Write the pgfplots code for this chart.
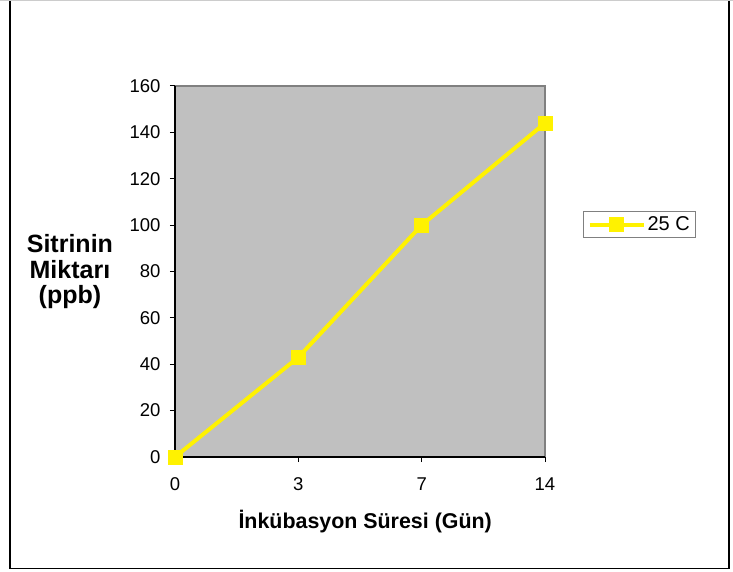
\documentclass[border=0pt]{standalone}
\usepackage{fontspec}
\setmainfont{Liberation Sans}
\usepackage{pgfplots}
\pgfplotsset{compat=1.18}
\definecolor{plotgray}{HTML}{C0C0C0}
\definecolor{edgegray}{HTML}{808080}
\begin{document}
\begin{tikzpicture}[x=1pt,y=1pt]
\useasboundingbox (0,0) rectangle (733,571);
\draw[black, line width=1.2pt] (10,570) -- (10,2.5) -- (729,2.5) -- (729,570);
\draw[gray!40, line width=1pt] (0,570.5) -- (733,570.5);
\begin{axis}[
  at={(175pt,114pt)}, anchor=south west,
  scale only axis, width=370pt, height=371pt,
  xmin=0, xmax=3, ymin=0, ymax=160,
  xtick={0,1,2,3}, xticklabels={0,3,7,14},
  ytick={0,20,...,160},
  axis background/.style={fill=plotgray, draw=edgegray, line width=1.2pt},
  axis x line*=bottom, axis y line*=left,
  axis line style={-, black, line width=1.2pt},
  tick align=outside, major tick length=5pt,
  tick style={black, line width=1pt},
  /pgf/number format/assume math mode=true,
  tick label style={font=\fontsize{18.5}{22}\selectfont},
  xticklabel style={yshift=-12pt},
  yticklabel style={xshift=-6pt},
  clip=false,
  legend style={at={(axis description cs:1.103,0.662)}, anchor=north west,
    draw=edgegray, line width=0.8pt, font=\fontsize{20}{24}\selectfont,
    inner xsep=4pt, inner ysep=3pt, legend cell align=left},
  legend image code/.code={
    \draw[#1, line width=4pt] (-2pt,0pt) -- (52pt,0pt);
    \draw[#1, only marks, mark=square*, mark size=7pt] plot coordinates {(25pt,0pt)};
  },
  xlabel={İnkübasyon Süresi (Gün)},
  xlabel style={font=\bfseries\fontsize{21.4}{25}\selectfont, at={(axis description cs:0.514,-0.175)}, anchor=center},
  ylabel={Sitrinin\\Miktarı\\(ppb)},
  ylabel style={font=\bfseries\fontsize{25}{25.5}\selectfont, align=center, rotate=-90, at={(axis description cs:-0.284,0.499)}, anchor=center},
]
\addplot[color=yellow, line width=4pt, mark=square*, mark size=7pt, mark options={fill=yellow, draw=yellow, line width=0pt}]
  coordinates {(0,0) (1,43) (2,100) (3,144)};
\addlegendentry{25 C}
\end{axis}
\end{tikzpicture}
\end{document}
